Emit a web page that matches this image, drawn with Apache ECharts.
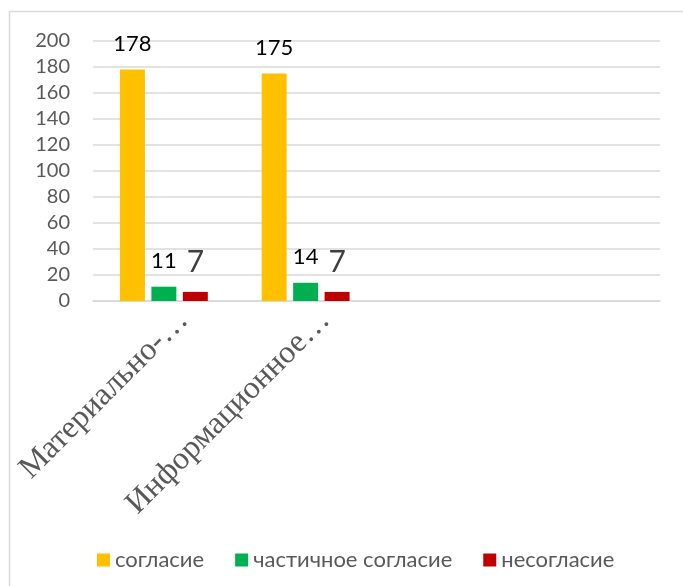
<!DOCTYPE html>
<html>
<head>
<meta charset="utf-8">
<script src="https://cdn.jsdelivr.net/npm/echarts@6/dist/echarts.min.js"></script>
<style>html,body{margin:0;padding:0;background:#fff;}#c{width:683px;height:586px;}</style>
</head>
<body>
<div id="c"></div>
<script>
const categories = ['Материально-…', 'Информационное…', '', ''];
const seriesNames = ['согласие', 'частичное согласие', 'несогласие'];
const agree = [178, 175, null, null];
const partial = [11, 14, null, null];
const disagree = [7, 7, null, null];
const yTicks = { min: 0, max: 200, interval: 20 };

const colors = ['#FFC000', '#00B050', '#C00000'];
const chart = echarts.init(document.getElementById('c'), null, { renderer: 'canvas' });

function bar(name, data, color, labelSize, labelColor) {
  return {
    name: name,
    type: 'bar',
    data: data,
    barGap: '26%',
    barCategoryGap: '38%',
    itemStyle: { color: color },
    label: {
      show: true,
      position: 'top',
      distance: 15,
      fontFamily: 'Lato',
      fontSize: labelSize,
      color: labelColor
    }
  };
}

chart.setOption({
  animation: false,
  backgroundColor: '#fff',
  color: colors,
  graphic: [{
    type: 'rect',
    shape: { x: 9.5, y: 11.5, width: 700, height: 600 },
    style: { fill: 'none', stroke: '#d9d9d9', lineWidth: 1.5 },
    silent: true, z: -1
  }],
  grid: { left: 93, right: 23, top: 41, bottom: 285, containLabel: false },
  legend: {
    data: seriesNames,
    left: 92,
    top: 544,
    icon: 'rect',
    itemWidth: 13,
    itemHeight: 13,
    itemGap: 31,
    textStyle: { fontFamily: 'Lato', fontSize: 22, color: '#595959' }
  },
  xAxis: {
    type: 'category',
    data: categories,
    axisLine: { show: true, lineStyle: { color: '#d9d9d9', width: 1.5 } },
    axisTick: { show: false },
    axisLabel: {
      interval: 0,
      rotate: 45,
      margin: -5,
      verticalAlign: 'top',
      lineHeight: 55,
      fontFamily: 'Liberation Serif',
      fontSize: 32,
      color: '#595959'
    }
  },
  yAxis: {
    type: 'value',
    min: yTicks.min,
    max: yTicks.max,
    interval: yTicks.interval,
    axisLine: { show: false },
    axisTick: { show: false },
    splitLine: { lineStyle: { color: '#d9d9d9', width: 1.5 } },
    axisLabel: { margin: 23, fontFamily: 'Lato', fontSize: 20, color: '#595959' }
  },
  series: [
    bar(seriesNames[0], agree, colors[0], 22, '#000'),
    bar(seriesNames[1], partial, colors[1], 22, '#000'),
    bar(seriesNames[2], disagree, colors[2], 30, '#404040')
  ]
});
</script>
</body>
</html>
